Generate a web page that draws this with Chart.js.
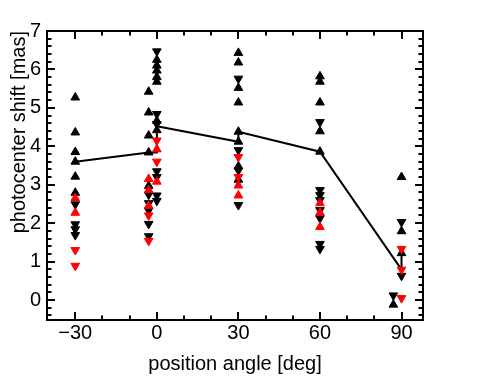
<!DOCTYPE html>
<html>
<head>
<meta charset="utf-8">
<script src="https://cdn.jsdelivr.net/npm/chart.js@4.4.1/dist/chart.umd.min.js"></script>
<style>
  html, body { margin: 0; padding: 0; background: #fff; }
  #wrap { width: 491px; height: 378px; }
</style>
</head>
<body>
<div id="wrap"><canvas id="c" width="491" height="378"></canvas></div>
<script>
// ---- data ----
const blackUpAngle = [-30,-30,-30,-30,-30,-30, -3,-3,-3,-3,-3, 0,0,0,0,0,0,0, 30,30,30,30,30,30,30,30, 60,60,60,60,60, 87, 90,90,90];
const blackUpShift = [5.27,4.36,3.85,3.6,3.21,2.79, 5.42,4.88,4.28,3.84,2.97, 6.25,6.1,5.97,5.8,5.68,4.66,4.42, 6.43,6.18,5.52,5.14,4.38,4.12,3.48,3.13, 5.82,5.68,5.14,4.39,3.86, -0.12, 3.2,1.79,1.22];

const blackDownAngle = [-30,-30,-30,-30, -3,-3,-3,-3,-3, 0,0,0,0,0,0,0, 30,30,30,30, 60,60,60,60,60,60,60,60, 87, 90,90];
const blackDownShift = [2.49,1.97,1.84,1.69, 2.74,2.52,2.33,1.98,1.66, 6.47,4.84,4.58,3.35,3.2,2.72,2.58, 5.76,3.9,3.37,2.47, 4.63,2.86,2.73,2.6,2.34,2.13,1.46,1.33, 0.12, 2.03,0.63];

const redUpAngle = [-30,-30, -3,-3,-3, 0,0, 30,30, 60,60,60];
const redUpShift = [2.65,2.27, 3.15,2.86,2.45, 3.92,3.08, 2.98,2.72, 2.52,2.27,1.9];

const redDownAngle = [-30,-30, -3,-3, 0,0, 30,30, 90,90,90];
const redDownShift = [1.3,0.89, 2.2,1.54, 4.15,3.6, 3.72,3.2, 1.33,0.79,0.05];

const meanAngle = [-30,-3,0,0,30,30,60,90];
const meanShift = [3.6,3.84,3.84,4.52,4.12,4.38,3.86,0.79];

const rangeAngle = [90,90];
const rangeShift = [1.22,0.63];

const xTickValues = [-30,0,30,60,90];
const yTickValues = [0,1,2,3,4,5,6,7];

// ---- helpers ----
const pts = (xs, ys) => xs.map((v, i) => ({x: v, y: ys[i]}));

Chart.defaults.font.family = "'Liberation Sans', Arial, sans-serif";
Chart.defaults.font.size = 20;
Chart.defaults.color = '#000';

const frameTicks = {
  id: 'frameTicks',
  afterDraw(chart) {
    const {ctx, chartArea: a, scales: {x, y}} = chart;
    ctx.save();
    ctx.strokeStyle = '#000';
    ctx.lineWidth = 2;
    ctx.beginPath();
    for (let v = -40; v <= 100; v += 10) {
      const px = Math.round(x.getPixelForValue(v));
      if (px <= a.left + 1 || px >= a.right - 1) continue;
      const len = (v % 30 === 0) ? 8 : 4.5;
      ctx.moveTo(px, a.bottom); ctx.lineTo(px, a.bottom - len);
      ctx.moveTo(px, a.top); ctx.lineTo(px, a.top + len);
    }
    for (let i = -4; i <= 70; i += 2) {
      const py = Math.round(y.getPixelForValue(i / 10));
      if (py <= a.top + 1 || py >= a.bottom - 1) continue;
      const len = (i % 10 === 0) ? 8 : 4.5;
      ctx.moveTo(a.left, py); ctx.lineTo(a.left + len, py);
      ctx.moveTo(a.right, py); ctx.lineTo(a.right - len, py);
    }
    ctx.stroke();
    ctx.strokeRect(a.left, a.top, a.right - a.left, a.bottom - a.top);
    ctx.restore();
  }
};

const tri = (color, down) => ({
  type: 'scatter',
  pointStyle: 'triangle',
  rotation: down ? 180 : 0,
  pointRadius: 5,
  pointHoverRadius: 5,
  backgroundColor: color,
  borderColor: color,
  borderWidth: 1,
  showLine: false,
  order: 1
});

new Chart(document.getElementById('c'), {
  type: 'scatter',
  data: {
    datasets: [
      Object.assign({ data: pts(meanAngle, meanShift) }, {
        type: 'line', borderColor: '#000', borderWidth: 2, pointRadius: 0, fill: false, tension: 0, order: 5
      }),
      Object.assign({ data: pts(rangeAngle, rangeShift) }, {
        type: 'line', borderColor: '#000', borderWidth: 2, pointRadius: 0, fill: false, tension: 0, order: 5
      }),
      Object.assign({ data: pts(redUpAngle, redUpShift) }, tri('#ff0000', false)),
      Object.assign({ data: pts(redDownAngle, redDownShift) }, tri('#ff0000', true)),
      Object.assign({ data: pts(blackUpAngle, blackUpShift) }, tri('#000000', false)),
      Object.assign({ data: pts(blackDownAngle, blackDownShift) }, tri('#000000', true))
    ]
  },
  options: {
    responsive: false,
    animation: false,
    events: [],
    layout: { padding: { top: 31, right: 68, left: 0, bottom: 0 } },
    plugins: { legend: { display: false }, tooltip: { enabled: false } },
    scales: {
      x: {
        type: 'linear',
        min: -40.4, max: 97.9,
        grid: { display: false, drawTicks: false },
        border: { display: false },
        afterBuildTicks: s => { s.ticks = xTickValues.map(v => ({value: v})); },
        afterFit: s => { s.height = 58; },
        ticks: { padding: 1, maxRotation: 0, callback: v => String(v).replace('-', '\u2212') },
        title: { display: true, text: 'position angle [deg]', padding: { top: 0, bottom: 2 } }
      },
      y: {
        type: 'linear',
        min: -0.52, max: 7,
        grid: { display: false, drawTicks: false },
        border: { display: false },
        afterBuildTicks: s => { s.ticks = yTickValues.map(v => ({value: v})); },
        afterFit: s => { s.width = 47; },
        ticks: { padding: 6 },
        title: { display: true, text: 'photocenter shift [mas]', align: 'end', padding: { top: 7, bottom: 0 } }
      }
    }
  },
  plugins: [frameTicks]
});
</script>
</body>
</html>
